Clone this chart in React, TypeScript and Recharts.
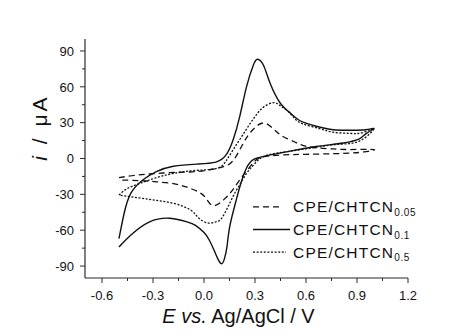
import React from 'react';
import { LineChart, Line, XAxis, YAxis } from 'recharts';

const FONT = '"Liberation Sans", Arial, Helvetica, sans-serif';

// Series labels
const seriesBase = ['CPE/CHTCN', 'CPE/CHTCN', 'CPE/CHTCN'];
const seriesSubs = ['0.05', '0.1', '0.5'];

// CPE/CHTCN0.05 (dashed)
const x005 = [-0.5, -0.4, -0.28, -0.15, -0.05, 0.05, 0.11, 0.17, 0.23, 0.28, 0.34, 0.39, 0.43, 0.47, 0.53, 0.58, 0.66, 0.76, 0.86, 1.0,
  0.94, 0.86, 0.76, 0.6, 0.47, 0.35, 0.3, 0.27, 0.22, 0.17, 0.12, 0.06, 0.02, -0.02, -0.1, -0.18, -0.28, -0.38, -0.5];
const y005 = [-16, -14, -12.5, -11.5, -11, -9, -7, -2, 12.5, 23, 29.5, 27, 22, 18, 14, 11, 9, 8, 7.5, 7.5,
  5.5, 4.5, 4, 3.5, 3, 1.5, -2, -7, -16, -26, -34, -39.5, -35, -29, -24, -21, -19.5, -18.5, -18];

// CPE/CHTCN0.1 (solid)
const x01 = [-0.5, -0.47, -0.43, -0.36, -0.28, -0.18, -0.04, 0.07, 0.13, 0.17, 0.21, 0.25, 0.29, 0.315, 0.35, 0.39, 0.45, 0.5, 0.56, 0.66, 0.76, 0.86, 0.95, 1.0,
  0.955, 0.916, 0.82, 0.66, 0.5, 0.39, 0.33, 0.29, 0.25, 0.21, 0.18, 0.15, 0.135, 0.12, 0.105, 0.085, 0.06, 0.03, 0.0, -0.05, -0.1, -0.2, -0.32, -0.43, -0.5];
const y01 = [-67, -46, -29, -18, -11, -6.5, -4.7, -3, 3, 15, 35, 60, 78, 83, 78, 62.5, 46, 39, 32, 27, 24, 23.6, 24, 25,
  21, 16.7, 13, 10, 6, 3, 1, -1, -8, -24, -40, -58, -74, -84, -88, -85, -77, -68, -62, -56, -53, -50, -53, -64, -74];

// CPE/CHTCN0.5 (dotted)
const x05 = [-0.5, -0.45, -0.38, -0.28, -0.18, -0.05, 0.075, 0.13, 0.17, 0.22, 0.27, 0.31, 0.35, 0.41, 0.45, 0.49, 0.53, 0.58, 0.68, 0.76, 0.86, 0.94, 1.0,
  0.92, 0.8, 0.66, 0.5, 0.39, 0.33, 0.29, 0.25, 0.21, 0.17, 0.11, 0.07, 0.026, -0.03, -0.08, -0.18, -0.28, -0.38, -0.5];
const y05 = [-30.6, -25, -21, -16, -12.5, -10, -8.3, -2, 7, 18, 29, 37, 43, 46.7, 44, 40, 34, 29, 25, 22, 21, 22, 25,
  15, 12, 9.5, 6, 3.5, 0, -5.6, -12.5, -22, -32, -48.7, -53, -54, -50, -43, -37.5, -35, -33, -30.6];

// Ticks
const xTicks = [-0.6, -0.45, -0.3, -0.15, 0, 0.15, 0.3, 0.45, 0.6, 0.75, 0.9, 1.05, 1.2];
const xMajor = [-0.6, -0.3, 0, 0.3, 0.6, 0.9, 1.2];
const yTicks = [-90, -75, -60, -45, -30, -15, 0, 15, 30, 45, 60, 75, 90];
const yMajor = [-90, -60, -30, 0, 30, 60, 90];

const zip = (xs: number[], ys: number[]) => xs.map((x, i) => ({ x, y: ys[i] }));
const d005 = zip(x005, y005);
const d01 = zip(x01, y01);
const d05 = zip(x05, y05);

const isIn = (arr: number[], v: number) => arr.some((a) => Math.abs(a - v) < 1e-6);

const AX = '#2a2a2a';

const XTick = (props: any) => {
  const { x, y, payload } = props;
  const major = isIn(xMajor, payload.value);
  return (
    <g>
      <line x1={x} x2={x} y1={y} y2={y + (major ? 5 : 3)} stroke={AX} strokeWidth={1} />
      {major && (
        <text x={x} y={y + 22} textAnchor="middle" fontSize={13} fontFamily={FONT} fill="#111">
          {payload.value.toFixed(1)}
        </text>
      )}
    </g>
  );
};

const YTick = (props: any) => {
  const { x, y, payload } = props;
  const major = isIn(yMajor, payload.value);
  return (
    <g>
      <line x1={x} x2={x - (major ? 5 : 3)} y1={y} y2={y} stroke={AX} strokeWidth={1} />
      {major && (
        <text x={x - 11} y={y + 4.7} textAnchor="end" fontSize={13} fontFamily={FONT} fill="#111">
          {String(payload.value)}
        </text>
      )}
    </g>
  );
};

const XTitle = (props: any) => {
  const vb = props.viewBox;
  const cx = vb.x + vb.width / 2 - 8;
  return (
    <text x={cx} y={vb.y + 45} textAnchor="middle" fontSize={20} fontFamily={FONT} fill="#111">
      <tspan fontStyle="italic">E</tspan>
      <tspan fontStyle="italic"> vs.</tspan>
      <tspan> Ag/AgCl / V</tspan>
    </text>
  );
};

const YTitle = (props: any) => {
  const vb = props.viewBox;
  const cx = vb.x + vb.width - 38;
  const cy = vb.y + vb.height / 2 - 31;
  return (
    <text x={cx} y={cy} transform={`rotate(-90, ${cx}, ${cy})`} textAnchor="middle" fontSize={21} fontFamily={FONT} fill="#111" letterSpacing={3}>
      <tspan fontStyle="italic">i</tspan>
      <tspan> / μA</tspan>
    </text>
  );
};

const styles = [
  { dash: '6 4', width: 1.3 },
  { dash: undefined as string | undefined, width: 1.4 },
  { dash: '2 1.6', width: 1.3 },
];

const LegendBlock = () => {
  const x0 = 245;
  const lineLens = [29, 37, 33];
  const baseY = 204.3;
  const step = 22.7;
  return (
    <g>
      {seriesBase.map((name, i) => {
        const by = baseY + i * step;
        return (
          <g key={i}>
            <line x1={x0} x2={x0 + lineLens[i]} y1={by - 5.5} y2={by - 5.5} stroke="#111" strokeWidth={styles[i].width} strokeDasharray={styles[i].dash} />
            <text x={x0 + 40} y={by} fontSize={15.5} fontFamily={FONT} fill="#111" letterSpacing={1.2}>
              {name}
              <tspan fontSize={10} dy={3.5} letterSpacing={0.6}>{seriesSubs[i]}</tspan>
            </text>
          </g>
        );
      })}
    </g>
  );
};

export default function App() {
  return (
    <div style={{ width: 466, height: 327 }}>
      <LineChart width={466} height={327} margin={{ top: 31, right: 66, left: 0, bottom: 0 }}>
        <XAxis
          type="number"
          dataKey="x"
          domain={[-0.7, 1.2]}
          ticks={xTicks}
          interval={0}
          tick={<XTick />}
          tickSize={0}
          tickMargin={0}
          tickLine={false}
          height={57}
          allowDataOverflow
          axisLine={{ stroke: AX, strokeWidth: 1.2 }}
          label={<XTitle />}
        />
        <YAxis
          type="number"
          dataKey="y"
          domain={[-100, 100]}
          ticks={yTicks}
          interval={0}
          tick={<YTick />}
          tickSize={0}
          tickMargin={0}
          tickLine={false}
          width={77}
          allowDataOverflow
          axisLine={{ stroke: AX, strokeWidth: 1.2 }}
          label={<YTitle />}
        />
        <Line data={d005} dataKey="y" type="natural" stroke="#111" strokeWidth={styles[0].width} strokeDasharray={styles[0].dash} dot={false} isAnimationActive={false} />
        <Line data={d01} dataKey="y" type="natural" stroke="#111" strokeWidth={styles[1].width} dot={false} isAnimationActive={false} />
        <Line data={d05} dataKey="y" type="natural" stroke="#111" strokeWidth={styles[2].width} strokeDasharray={styles[2].dash} dot={false} isAnimationActive={false} />
        <LegendBlock />
      </LineChart>
    </div>
  );
}
